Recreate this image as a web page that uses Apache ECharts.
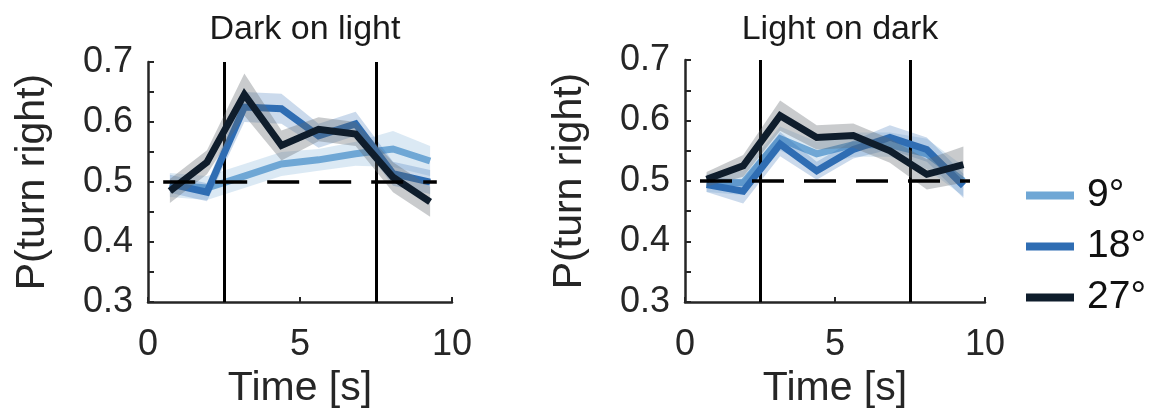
<!DOCTYPE html>
<html><head><meta charset="utf-8">
<script src="https://cdn.jsdelivr.net/npm/echarts@6/dist/echarts.min.js"></script>
<style>html,body{margin:0;padding:0;background:#fff}#c{width:1149px;height:414px}</style>
</head><body><div id="c"></div>
<script>
// ---- data ----
const time = [0.72, 1.94, 3.17, 4.39, 5.61, 6.83, 8.06, 9.28];
const seriesNames = ['9°', '18°', '27°'];
const panelTitles = ['Dark on light', 'Light on dark'];
const xTicks = [0, 5, 10];
const yTicks = [0.3, 0.4, 0.5, 0.6, 0.7];
const stimLines = [2.5, 7.5];
const chanceLevel = 0.5;
const chanceRange = [0.5, 9.5];

// Dark on light
const dl9 = [0.495, 0.490, 0.510, 0.530, 0.537, 0.547, 0.555, 0.535];
const dl9err = [0.020, 0.020, 0.020, 0.020, 0.018, 0.020, 0.030, 0.025];
const dl18 = [0.497, 0.483, 0.625, 0.622, 0.577, 0.597, 0.514, 0.500];
const dl18err = [0.015, 0.015, 0.025, 0.025, 0.020, 0.020, 0.020, 0.020];
const dl27 = [0.485, 0.533, 0.646, 0.561, 0.588, 0.580, 0.508, 0.467];
const dl27err = [0.020, 0.020, 0.035, 0.025, 0.020, 0.020, 0.025, 0.025];

// Light on dark
const ld9 = [0.497, 0.497, 0.570, 0.545, 0.560, 0.560, 0.545, 0.500];
const ld9err = [0.015, 0.020, 0.020, 0.020, 0.020, 0.020, 0.025, 0.025];
const ld18 = [0.494, 0.483, 0.561, 0.517, 0.552, 0.572, 0.552, 0.492];
const ld18err = [0.012, 0.020, 0.020, 0.015, 0.015, 0.020, 0.020, 0.020];
const ld27 = [0.503, 0.525, 0.608, 0.572, 0.575, 0.550, 0.511, 0.527];
const ld27err = [0.012, 0.018, 0.025, 0.020, 0.020, 0.020, 0.025, 0.030];

const panels = [
  [dl9, dl9err, dl18, dl18err, dl27, dl27err],
  [ld9, ld9err, ld18, ld18err, ld27, ld27err]
];

// ---- styles ----
const lineColors = ['#6fa7d5', '#2f6db3', '#0f1d2c'];
const bandColors = ['rgba(111,167,213,0.25)', 'rgba(47,109,179,0.25)', 'rgba(100,106,112,0.35)'];
const axisCol = '#262626';
const FONT = '"Liberation Sans", Arial, Helvetica, sans-serif';

const grids = [
  {left: 148, top: 62, width: 304, height: 242},
  {left: 685, top: 60, width: 300, height: 242}
];

const xAxes = grids.map((g, i) => ({
  type: 'value', gridIndex: i, min: 0, max: 10, interval: 5,
  name: 'Time [s]', nameLocation: 'middle', nameGap: 65,
  nameTextStyle: {fontFamily: FONT, fontSize: 41, color: axisCol},
  axisLine: {show: true, lineStyle: {color: axisCol, width: 2.5}},
  axisTick: {show: true, inside: true, length: 5, lineStyle: {color: axisCol, width: 2}},
  minorTick: {show: false},
  splitLine: {show: false},
  axisLabel: {fontFamily: FONT, fontSize: 36, color: axisCol, margin: 25,
    formatter: v => xTicks.includes(v) ? String(v) : ''}
}));
const yAxes = grids.map((g, i) => ({
  type: 'value', gridIndex: i, min: 0.3, max: 0.7, interval: 0.1,
  name: 'P(turn right)', nameLocation: 'middle', nameGap: 95, nameRotate: 90,
  nameTextStyle: {fontFamily: FONT, fontSize: 41, color: axisCol},
  axisLine: {show: true, lineStyle: {color: axisCol, width: 2.5}},
  axisTick: {show: true, inside: true, length: 6, lineStyle: {color: axisCol, width: 2}},
  minorTick: {show: true, splitNumber: 2, length: 6, lineStyle: {color: axisCol, width: 2}},
  splitLine: {show: false},
  axisLabel: {fontFamily: FONT, fontSize: 36, color: axisCol, margin: 15,
    formatter: v => { const t = yTicks.find(y => Math.abs(y - v) < 1e-9); return t !== undefined ? t.toFixed(1) : ''; }}
}));

function bandSeries(gi, mean, err, color, z) {
  return {
    type: 'custom', xAxisIndex: gi, yAxisIndex: gi, silent: true, z: z,
    data: [[time[0], mean[0]]],
    renderItem: (params, api) => {
      const pts = [];
      for (let i = 0; i < time.length; i++) pts.push(api.coord([time[i], mean[i] + err[i]]));
      for (let i = time.length - 1; i >= 0; i--) pts.push(api.coord([time[i], mean[i] - err[i]]));
      return {type: 'polygon', shape: {points: pts}, style: {fill: color}};
    }
  };
}

const series = [];
panels.forEach((p, gi) => {
  for (let k = 0; k < 3; k++) {
    const mean = p[2 * k], err = p[2 * k + 1];
    series.push(bandSeries(gi, mean, err, bandColors[k], 2 + 2 * k));
    series.push({
      type: 'line', xAxisIndex: gi, yAxisIndex: gi, name: seriesNames[k],
      data: time.map((t, i) => [t, mean[i]]),
      symbol: 'none', z: 3 + 2 * k,
      itemStyle: {color: lineColors[k]},
      lineStyle: {color: lineColors[k], width: 7, join: 'miter'}
    });
  }
  series.push({
    type: 'line', xAxisIndex: gi, yAxisIndex: gi, name: 'chance' + gi,
    data: chanceRange.map(x => [x, chanceLevel]),
    symbol: 'none', z: 10,
    lineStyle: {color: '#000', width: 3.5, type: [32, 20]},
    markLine: {
      silent: true, symbol: 'none', label: {show: false},
      lineStyle: {color: '#000', width: 3, type: 'solid'},
      data: stimLines.map(v => ({xAxis: v}))
    }
  });
});

const chart = echarts.init(document.getElementById('c'), null, {renderer: 'canvas'});
chart.setOption({
  animation: false,
  backgroundColor: '#fff',
  title: [
    {text: panelTitles[0], left: 300, top: 8, textAlign: 'center',
      textStyle: {fontFamily: FONT, fontSize: 34, fontWeight: 'normal', color: '#1a1a1a'}},
    {text: panelTitles[1], left: 835, top: 8, textAlign: 'center',
      textStyle: {fontFamily: FONT, fontSize: 34, fontWeight: 'normal', color: '#1a1a1a'}}
  ],
  legend: {
    data: seriesNames, orient: 'vertical', left: 1021, top: 171,
    icon: 'rect', itemWidth: 48, itemHeight: 8, itemGap: 12,
    textStyle: {fontFamily: FONT, fontSize: 39, color: '#111', padding: [0, 0, 0, 8]},
    selectedMode: false
  },
  grid: grids,
  xAxis: xAxes,
  yAxis: yAxes,
  series: series
});
</script>
</body></html>
